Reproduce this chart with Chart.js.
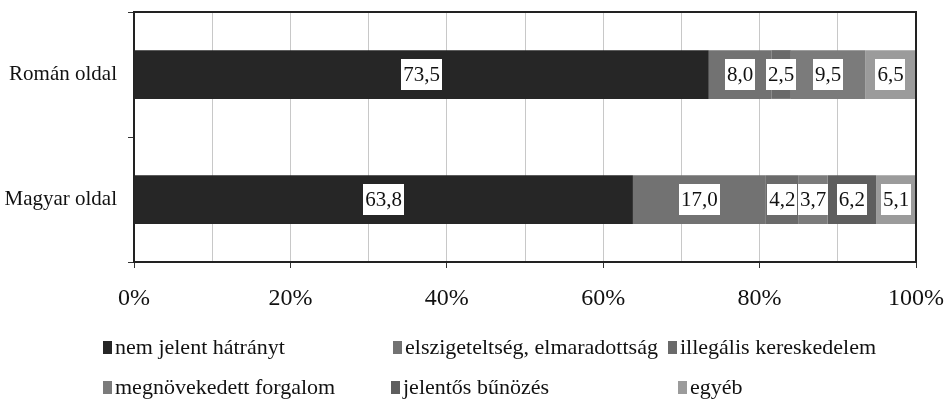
<!DOCTYPE html>
<html><head><meta charset="utf-8">
<script src="https://cdn.jsdelivr.net/npm/chart.js@4/dist/chart.umd.min.js"></script>
<style>
html,body{margin:0;padding:0;background:#fff;}
#wrap{position:relative;width:945px;height:403px;overflow:hidden;}
#legend{position:absolute;left:0;top:0;width:945px;height:403px;pointer-events:none;font-family:"Liberation Serif","Times New Roman",serif;font-size:22px;color:#111;}
.li{position:absolute;display:flex;align-items:center;white-space:nowrap;height:24px;line-height:24px;}
.sw{width:9px;height:13px;margin-right:3px;flex:none;}
</style></head><body>
<div id="wrap"><canvas id="c" width="945" height="403"></canvas><div id="legend"></div></div>
<script>
const categories = ['Román oldal', 'Magyar oldal'];
const seriesNames = ['nem jelent hátrányt', 'elszigeteltség, elmaradottság', 'illegális kereskedelem', 'megnövekedett forgalom', 'jelentős bűnözés', 'egyéb'];
const nemJelent = [73.5, 63.8];
const elszigeteltseg = [8.0, 17.0];
const illegalis = [2.5, 4.2];
const megnovekedett = [9.5, 3.7];
const jelentos = [null, 6.2];
const egyeb = [6.5, 5.1];
const xTickLabels = ['0%', '20%', '40%', '60%', '80%', '100%'];

const seriesValues = [nemJelent, elszigeteltseg, illegalis, megnovekedett, jelentos, egyeb];
const colors = ['#262626', '#727272', '#6a6a6a', '#7b7b7b', '#5e5e5e', '#9b9b9b'];
const SERIF = '"Liberation Serif","Times New Roman",serif';

const datasets = seriesNames.map((n, i) => ({
  label: n, data: seriesValues[i], backgroundColor: colors[i], borderWidth: 0,
  barPercentage: 0.39, categoryPercentage: 1
}));

const framePlugin = {
  id: 'frame',
  afterDatasetsDraw(chart) {
    const a = chart.chartArea, c = chart.ctx;
    c.save();
    c.strokeStyle = '#222'; c.lineWidth = 2;
    c.beginPath();
    c.moveTo(a.left, a.top); c.lineTo(a.right, a.top); c.lineTo(a.right, a.bottom);
    c.stroke();
    c.restore();
  }
};

const labelPlugin = {
  id: 'vlabels',
  afterDatasetsDraw(chart) {
    const c = chart.ctx;
    c.save();
    c.font = '21px ' + SERIF;
    c.textAlign = 'center'; c.textBaseline = 'middle';
    chart.data.datasets.forEach((ds, di) => {
      const meta = chart.getDatasetMeta(di);
      meta.data.forEach((el, i) => {
        const v = ds.data[i];
        if (v == null || v <= 0) return;
        const txt = v.toFixed(1).replace('.', ',');
        const cx = (el.x + el.base) / 2, cy = el.y;
        const w = c.measureText(txt).width + 4, h = 31;
        c.fillStyle = '#fff';
        c.fillRect(Math.round(cx - w / 2), Math.round(cy - h / 2), Math.round(w), h);
        c.fillStyle = '#111';
        c.fillText(txt, cx, cy + 1);
      });
    });
    c.restore();
  }
};

new Chart(document.getElementById('c'), {
  type: 'bar',
  data: { labels: categories, datasets },
  options: {
    indexAxis: 'y', responsive: false, animation: false,
    layout: { padding: { top: 12, right: 29, left: 0, bottom: 0 } },
    plugins: { legend: { display: false }, tooltip: { enabled: false } },
    scales: {
      x: {
        stacked: true, min: 0, max: 100,
        ticks: {
          stepSize: 10, autoSkip: false, maxRotation: 0, padding: 16,
          color: '#111', font: { family: SERIF, size: 24 },
          callback: (v) => (v % 20 === 0 ? xTickLabels[v / 20] : '')
        },
        grid: {
          color: (ctx) => (ctx.tick && (ctx.tick.value === 0 || ctx.tick.value === 100)) ? 'rgba(0,0,0,0)' : '#c8c8c8',
          tickColor: (ctx) => (ctx.tick && ctx.tick.value % 20 === 0) ? '#333' : 'rgba(0,0,0,0)',
          tickLength: 6, lineWidth: 1
        },
        border: { color: '#222', width: 2 },
        afterFit: (s) => { s.height = 141; s.paddingLeft = 0; s.paddingRight = 0; }
      },
      y: {
        stacked: true,
        ticks: { padding: 11, color: '#111', font: { family: SERIF, size: 21 } },
        grid: { offset: true, drawOnChartArea: false, tickLength: 6, color: '#333' },
        border: { color: '#222', width: 2 },
        afterFit: (s) => { s.width = 134; s.paddingTop = 0; s.paddingBottom = 0; }
      }
    }
  },
  plugins: [framePlugin, labelPlugin]
});

// legend (HTML, built from series names and colours)
const legendPos = [[103, 335], [393, 335], [668, 335], [103, 375], [391, 375], [678, 375]];
const lg = document.getElementById('legend');
seriesNames.forEach((n, i) => {
  const d = document.createElement('div');
  d.className = 'li';
  d.style.left = legendPos[i][0] + 'px';
  d.style.top = legendPos[i][1] + 'px';
  const sw = document.createElement('span');
  sw.className = 'sw'; sw.style.background = colors[i];
  const t = document.createElement('span');
  t.textContent = n;
  d.appendChild(sw); d.appendChild(t);
  lg.appendChild(d);
});
</script>
</body></html>
